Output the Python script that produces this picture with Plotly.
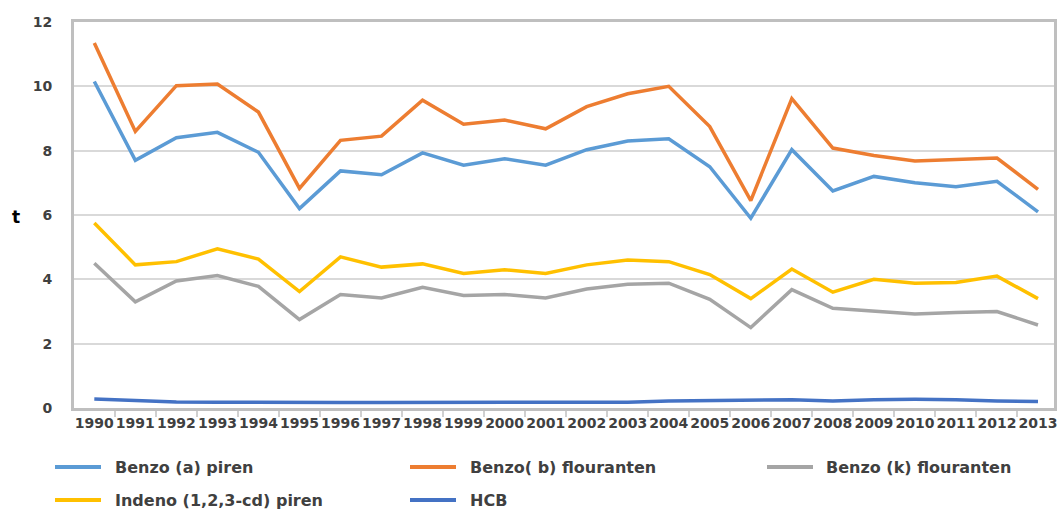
import plotly.graph_objects as go

years = [str(y) for y in range(1990, 2014)]

benzo_a = [10.15, 7.7, 8.4, 8.57, 7.95, 6.2, 7.37, 7.25, 7.93, 7.55, 7.75, 7.55,
           8.03, 8.3, 8.37, 7.5, 5.9, 8.03, 6.75, 7.2, 7.0, 6.88, 7.05, 6.1]
benzo_b = [11.35, 8.6, 10.02, 10.07, 9.2, 6.83, 8.32, 8.45, 9.57, 8.82, 8.95, 8.68,
           9.37, 9.77, 10.0, 8.75, 6.45, 9.62, 8.08, 7.85, 7.68, 7.72, 7.77, 6.8]
benzo_k = [4.5, 3.3, 3.95, 4.12, 3.78, 2.75, 3.53, 3.42, 3.75, 3.5, 3.53, 3.42,
           3.7, 3.85, 3.88, 3.38, 2.5, 3.68, 3.1, 3.0, 2.92, 2.97, 3.0, 2.58]
indeno = [5.75, 4.45, 4.55, 4.95, 4.63, 3.62, 4.7, 4.38, 4.48, 4.18, 4.3, 4.18,
          4.45, 4.6, 4.55, 4.15, 3.4, 4.32, 3.6, 4.0, 3.88, 3.9, 4.1, 3.4]
hcb = [0.28, 0.23, 0.19, 0.18, 0.17, 0.17, 0.17, 0.17, 0.17, 0.17, 0.18, 0.18,
       0.18, 0.18, 0.22, 0.23, 0.26, 0.26, 0.22, 0.26, 0.27, 0.26, 0.22, 0.2]

series = [
    ('Benzo (a) piren', benzo_a, '#5B9BD5'),
    ('Benzo( b) flouranten', benzo_b, '#ED7D31'),
    ('Benzo (k) flouranten', benzo_k, '#A5A5A5'),
    ('Indeno (1,2,3-cd) piren', indeno, '#FFC000'),
    ('HCB', hcb, '#4472C4'),
]

# full window figure (body margin removed in the page, see write_html below)
W, H = 1057, 509
L, R, T, B = 74, 3, 22, 101
pw, ph = W - L - R, H - T - B


def px(x):
    # window pixel -> paper fraction
    return (x - L) / pw


def py(y):
    return (T + ph - y) / ph


fig = go.Figure()
for name, vals, color in series:
    fig.add_trace(go.Scatter(x=years, y=vals, name=name, mode='lines',
                             line=dict(color=color, width=3.5)))

# legend drawn by hand (3 columns, Excel style)
leg_pos = [(55, 115, 467), (410, 470, 467), (767, 826, 467),
           (55, 115, 500), (410, 470, 500)]
shapes, annots = [], []
for (name, vals, color), (lx, tx, ly) in zip(series, leg_pos):
    shapes.append(dict(type='line', xref='paper', yref='paper',
                       x0=px(lx), x1=px(lx + 46), y0=py(ly), y1=py(ly),
                       line=dict(color=color, width=4)))
    annots.append(dict(text='<b>%s</b>' % name, xref='paper', yref='paper',
                       x=px(tx - 2), y=py(ly), xanchor='left', yanchor='middle',
                       showarrow=False,
                       font=dict(size=16, color='#404040')))

annots.append(dict(text='<b>t</b>', xref='paper', yref='paper', x=px(16), y=py(217),
                   xanchor='center', yanchor='middle', showarrow=False,
                   font=dict(size=17, color='#000000')))

fig.update_layout(
    width=W, height=H,
    margin=dict(l=L, r=R, t=T, b=B, autoexpand=False),
    plot_bgcolor='white', paper_bgcolor='white',
    font=dict(family='DejaVu Sans', color='#404040', size=14),
    showlegend=False,
    shapes=shapes,
    annotations=annots,
)

fig.update_xaxes(
    type='category', range=[-0.495, 23.39], tickson='boundaries', ticks='outside',
    ticklen=6, tickcolor='#D0D0D0', tickwidth=1.5, showline=True,
    linecolor='#BFBFBF', linewidth=3, mirror=True, showgrid=False, tickangle=0,
    tickfont=dict(size=14, weight='bold', color='#404040'), automargin=False,
)
fig.update_yaxes(
    range=[0, 12], dtick=2, showline=True, linecolor='#BFBFBF', linewidth=3,
    mirror=True, gridcolor='#D9D9D9', gridwidth=1.5, zeroline=False,
    ticks='', ticklabelstandoff=16, automargin=False,
    tickfont=dict(size=14, weight='bold', color='#404040'),
)

fig.write_html("out.html", config={'displayModeBar': False},
               post_script="document.body.style.margin='0';"
                           "document.body.style.overflow='hidden';")
